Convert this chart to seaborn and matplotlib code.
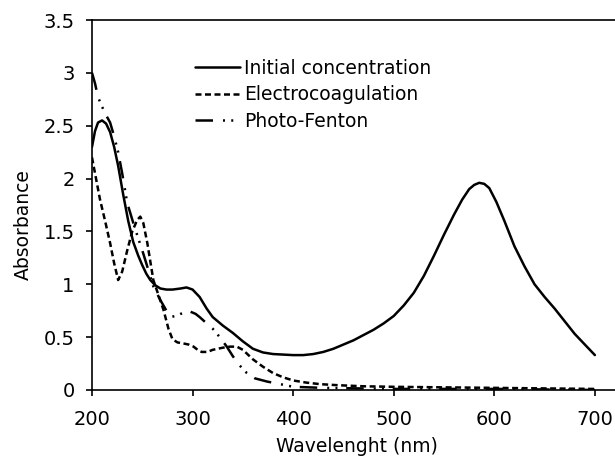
import pandas as pd
import numpy as np
import matplotlib
matplotlib.use("Agg")
import matplotlib.pyplot as plt
import matplotlib.ticker as mticker
import seaborn as sns

# values
wl_initial = [200, 203, 206, 210, 214, 218, 222, 226, 231, 236, 241, 246, 250, 254, 258, 263, 268, 274,
              280, 288, 294, 300, 307, 314, 320, 330, 340, 350, 360, 370, 380, 390, 400, 410, 420, 430,
              440, 450, 460, 470, 480, 490, 500, 510, 520, 530, 540, 550, 560, 568, 575, 580, 585, 590,
              595, 602, 610, 620, 630, 640, 650, 660, 670, 680, 690, 700]
abs_initial = [2.3, 2.45, 2.53, 2.55, 2.52, 2.44, 2.3, 2.12, 1.85, 1.6, 1.4, 1.27, 1.18, 1.1, 1.04, 0.99, 0.96, 0.95,
               0.95, 0.96, 0.97, 0.95, 0.88, 0.77, 0.69, 0.61, 0.54, 0.46, 0.39, 0.355, 0.34, 0.335, 0.33, 0.33, 0.34, 0.36,
               0.39, 0.43, 0.47, 0.52, 0.57, 0.63, 0.7, 0.8, 0.92, 1.08, 1.27, 1.47, 1.66, 1.8, 1.9, 1.94, 1.96, 1.95,
               1.91, 1.78, 1.6, 1.36, 1.17, 1.0, 0.88, 0.77, 0.65, 0.53, 0.43, 0.33]

wl_electro = [200, 204, 208, 213, 218, 222, 226, 230, 235, 240, 245, 248, 251, 255, 261, 266, 271,
              276, 280, 285, 291, 296, 301, 305, 309, 315, 320, 330, 337, 344, 350, 360, 370, 380,
              390, 400, 413, 427, 445, 470, 500, 550, 600, 650, 700]
abs_electro = [2.2, 2.0, 1.8, 1.6, 1.39, 1.2, 1.04, 1.12, 1.32, 1.5, 1.61, 1.64, 1.58, 1.39, 1.04, 0.9, 0.76,
               0.58, 0.48, 0.45, 0.44, 0.43, 0.41, 0.38, 0.36, 0.36, 0.38, 0.4, 0.41, 0.41, 0.38, 0.29, 0.22, 0.16,
               0.12, 0.09, 0.07, 0.055, 0.045, 0.035, 0.03, 0.025, 0.02, 0.015, 0.01]

wl_fenton = [200, 203, 206, 210, 214, 218, 222, 226, 230, 235, 242, 251, 261, 268, 274, 278, 283, 288,
             293, 298, 303, 307, 314, 320, 327, 334, 340, 347, 354, 362, 374, 390, 400, 430, 500, 600, 700]
abs_fenton = [3.0, 2.9, 2.77, 2.68, 2.6, 2.53, 2.4, 2.25, 2.05, 1.77, 1.55, 1.29, 0.98, 0.85, 0.75, 0.69, 0.7,
              0.72, 0.73, 0.74, 0.72, 0.69, 0.63, 0.58, 0.5, 0.41, 0.32, 0.23, 0.16, 0.11, 0.08, 0.05, 0.03,
              0.02, 0.01, 0.01, 0.0]

labels = ["Initial concentration", "Electrocoagulation", "Photo-Fenton"]

df = pd.concat([
    pd.DataFrame({"wl": wl_initial, "abs": abs_initial, "series": labels[0]}),
    pd.DataFrame({"wl": wl_electro, "abs": abs_electro, "series": labels[1]}),
    pd.DataFrame({"wl": wl_fenton, "abs": abs_fenton, "series": labels[2]}),
])

sns.set_style("white")
plt.rcParams["font.family"] = ["DejaVu Sans"]
plt.rcParams["text.color"] = "black"
plt.rcParams["axes.labelcolor"] = "black"

fig = plt.figure(figsize=(6.15, 4.58), dpi=100)
ax = fig.add_axes([0.1496, 0.1485, 0.8504, 0.8078])

sns.lineplot(data=df, x="wl", y="abs", style="series", color="black", linewidth=1.8,
             dashes={labels[0]: "", labels[1]: (2.4, 1.4), labels[2]: (7, 4, 0.8, 2.5, 0.8, 3.5)},
             estimator=None, sort=False, ax=ax)

ax.set_xlim(200, 720)
ax.set_ylim(0, 3.5)
ax.set_xticks([200, 300, 400, 500, 600, 700])
ax.set_yticks(np.arange(0, 3.51, 0.5))
ax.yaxis.set_major_formatter(mticker.FormatStrFormatter("%g"))
ax.tick_params(axis="both", direction="out", length=4.5, width=1.2, labelsize=14, colors="black",
               left=True, bottom=True)
ax.tick_params(axis="x", pad=10)
ax.tick_params(axis="y", pad=8)
ax.set_xlabel("Wavelenght (nm)", fontsize=13.5)
ax.set_ylabel("Absorbance", fontsize=13.5)
ax.xaxis.set_label_coords(0.507, -0.128)
ax.yaxis.set_label_coords(-0.114, 0.446)

for s in ["left", "bottom", "top"]:
    ax.spines[s].set_color("black")
    ax.spines[s].set_linewidth(1.2)
ax.spines["right"].set_visible(False)

leg = ax.legend(loc="upper left", bbox_to_anchor=(0.182, 0.915), frameon=False, fontsize=13.5,
                handlelength=2.4, handletextpad=0.25, labelspacing=0.4, borderaxespad=0)

fig.savefig("out.png", dpi=100)
